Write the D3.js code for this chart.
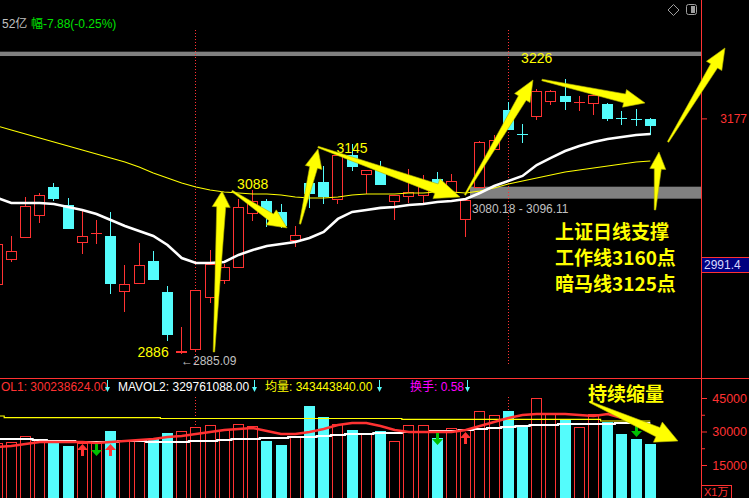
<!DOCTYPE html>
<html><head><meta charset="utf-8">
<script src="https://cdn.jsdelivr.net/npm/d3@7/dist/d3.min.js"></script>
<style>html,body{margin:0;padding:0;background:#000;overflow:hidden;}svg{display:block}</style>
</head><body><svg id="chart" width="749" height="498"></svg>
<script>
// ---------- data (index -1 .. 45) ----------
const idx = d3.range(-1, 46);
const openP  = [2971.0,3002.1,3029.5,3056.8,3091.7,3069.3,3023.3,3034.0,3030.7,2962.3,2972.2,2999.6,2961.1,2886.2,2890.1,2954.8,2976.0,2992.2,3059.3,3074.3,3060.6,3025.7,3096.6,3097.9,3076.7,3131.5,3107.8,3112.8,3074.3,3080.5,3081.7,3101.6,3085.4,3051.9,3091.7,3138.9,3187.5,3158.0,3180.0,3198.7,3204.9,3197.0,3196.2,3194.9,3177.8,3176.6,3176.3];
const highP  = [3020.8,3030.7,3079.2,3084.2,3096.6,3078.0,3061.8,3050.6,3060.6,2994.6,3022.0,3012.1,2968.5,2917.5,2963.5,3013.3,2995.9,3076.7,3088.0,3076.7,3070.5,3043.2,3098.0,3117.8,3131.5,3145.0,3112.8,3124.0,3081.7,3114.1,3106.6,3110.3,3107.8,3075.5,3148.9,3156.4,3197.4,3170.0,3213.0,3212.0,3226.0,3204.9,3208.6,3196.2,3186.2,3188.7,3177.5];
const lowP   = [2971.0,2999.6,3029.5,3048.1,3075.5,3040.7,3009.6,3022.0,2959.8,2937.4,2972.2,2977.2,2901.3,2885.09,2888.9,2948.6,2972.2,2992.2,3050.6,3043.2,3042.0,3018.3,3066.8,3071.8,3071.8,3112.8,3084.2,3095.4,3051.9,3073.0,3071.8,3081.7,3085.4,3030.7,3091.7,3138.9,3163.8,3147.7,3176.3,3194.9,3188.7,3187.5,3182.5,3175.0,3170.0,3168.8,3157.6];
const closeP = [3020.8,3012.1,3068.0,3081.7,3078.0,3040.7,3030.7,3034.6,2972.2,2971.0,2994.6,2977.2,2908.8,2887.0,2963.5,2995.9,2992.2,3066.8,3074.3,3059.3,3044.4,3032.0,3084.2,3080.5,3131.5,3117.8,3112.8,3095.4,3081.7,3085.4,3094.2,3090.4,3099.1,3075.5,3147.7,3150.1,3163.8,3157.0,3211.1,3211.1,3198.7,3197.8,3206.1,3177.5,3177.2,3176.0,3168.8];
const maWork = [3078.0,3071.8,3071.8,3071.8,3070.5,3066.8,3063.1,3058.1,3050.6,3043.2,3036.9,3030.7,3019.5,3003.3,2997.1,2997.1,2998.4,3007.1,3013.3,3018.3,3020.8,3023.3,3028.2,3035.7,3051.9,3060.6,3063.1,3065.6,3066.8,3069.3,3070.5,3073.0,3074.3,3076.7,3084.2,3092.9,3099.1,3105.4,3119.0,3127.8,3136.4,3142.7,3147.7,3151.4,3153.9,3156.4,3157.6];
const maDark = [3167.6,3162.6,3157.6,3152.6,3147.7,3142.7,3137.7,3132.7,3127.8,3122.8,3116.6,3109.1,3102.9,3096.6,3091.7,3087.9,3085.4,3084.2,3082.9,3082.9,3081.7,3079.2,3078.0,3078.0,3079.2,3081.7,3082.9,3082.9,3082.9,3084.2,3084.2,3085.4,3085.4,3084.2,3086.7,3090.4,3095.4,3099.1,3102.9,3106.6,3110.3,3112.8,3115.3,3117.8,3120.3,3122.8,3124.0];
const volume = [24851,25299,27985,26642,24851,23507,24851,24851,30224,25746,26194,26642,29328,30224,32015,32910,30672,33358,32463,25746,23955,27537,41418,36493,33358,30672,29328,30224,25746,32910,32910,27090,31567,30672,39179,37388,39179,32015,45000,38284,35597,32015,37836,34254,28881,26642,24403];
const mavol1 = [23060,23507,24403,25299,25299,25299,25299,24851,25299,25746,26194,26642,27537,27985,28881,29776,30672,31119,31567,30224,28881,28881,29776,31119,32910,33806,33806,32463,30672,29776,29776,29776,29776,30672,32463,34254,36045,37388,37836,37836,37836,37388,36940,37836,36045,34254,31119];
const mavol2 = [26642,26642,26642,26194,25746,25746,25299,25299,25299,25746,25746,25299,25299,25299,25746,25746,26194,26642,26642,27090,27090,27537,27537,27985,28433,28881,28881,29328,29328,29776,29776,30224,30224,30672,31119,31567,32015,32463,32910,32910,33358,33358,33358,33358,33806,33806,33806];
const avgVol = [36940,36179,36179,36179,36179,36179,36179,36179,36179,36179,36179,36179,35821,35821,35821,35821,35821,35821,35821,35821,35821,35821,35821,35821,35821,35821,35821,35821,35821,35463,35463,35463,35463,35463,35463,35463,35463,35463,35463,35463,35463,35463,35463,34701,34701,34701,34701];
const priceTicks = [3177];
const volTicks = [15000, 30000, 45000];
const volMinorTicks = [22500, 37500];
const monthMarks = [13, 35];
const bandLo = [3254.6, 3077.1];
const bandHi = [3260.0, 3092.0];
const bandFrom = [-2, 32.3];
const volSignals = [{i:5,up:true},{i:6,up:false},{i:7,up:true},{i:30,up:false},{i:32,up:true},{i:44,up:false}];
// annotation arrows in (index, price) / (index, volume)
const arrowsMain = [
  {f:[14.27,2886.4], t:[14.84,3086.7], nw:9, hw:18, hl:16},
  {f:[15.54,3086.7], t:[19.42,3040.7], nw:8, hw:18, hl:19},
  {f:[20.33,3045.6], t:[21.60,3139.0], nw:8, hw:17, hl:19},
  {f:[21.60,3141.4], t:[31.60,3079.2], nw:10, hw:21, hl:25},
  {f:[31.95,3081.7], t:[36.74,3224.8], nw:9, hw:18, hl:21},
  {f:[37.37,3224.8], t:[44.63,3196.2], nw:9, hw:18, hl:21},
  {f:[45.33,3063.1], t:[45.61,3135.2], nw:7, hw:16, hl:17},
  {f:[46.25,3147.7], t:[50.26,3264.6], nw:8, hw:18, hl:21}
];
const arrowsVol = [{f:[40.75,43209], t:[46.95,25746], nw:10, hw:22, hl:22}];

// ---------- setup ----------
const RED='#ff3232', CYAN='#54fcfc', YEL='#ffff00', GRAY='#808080', TXTGRAY='#c0c0c0';
const FONT='"Liberation Sans", Arial, "Noto Sans CJK SC", sans-serif';
const CJK='"Noto Sans CJK SC", sans-serif';
const AX=701, SEP=378;
const svg=d3.select('#chart');
svg.append('rect').attr('width',749).attr('height',498).attr('fill','#000');
const x = d3.scaleLinear().domain([0,45]).range([11.3,650.3]);
const y = d3.scaleLinear().domain([2885.09,3226]).range([353,79]);
const yv = d3.scaleLinear().domain([0,45000]).range([498.5,398]);
const px = i => Math.floor(x(i))+0.5;

const defs=svg.append('defs');
defs.append('clipPath').attr('id','cm').append('rect').attr('x',0).attr('y',0).attr('width',AX).attr('height',SEP);
defs.append('clipPath').attr('id','cv').append('rect').attr('x',0).attr('y',SEP+1).attr('width',AX).attr('height',498-SEP);
const gm=svg.append('g').attr('clip-path','url(#cm)');
const gv=svg.append('g').attr('clip-path','url(#cv)');

// bands
bandLo.forEach((lo,k)=>{
  gm.append('rect').attr('x',Math.max(0,x(bandFrom[k]))).attr('y',y(bandHi[k]))
    .attr('width',AX-Math.max(0,x(bandFrom[k]))).attr('height',y(lo)-y(bandHi[k])).attr('fill',GRAY);
});
// month separators
monthMarks.forEach(i=>{
  gm.append('line').attr('x1',px(i)).attr('x2',px(i)).attr('y1',30).attr('y2',366)
    .attr('stroke',RED).attr('stroke-dasharray','1,2');
  gv.append('line').attr('x1',px(i)).attr('x2',px(i)).attr('y1',397).attr('y2',498)
    .attr('stroke',RED).attr('stroke-dasharray','1,2');
});

// candles
idx.forEach((i,k)=>{
  const o=openP[k],h=highP[k],l=lowP[k],c=closeP[k];
  const up=c>=o, col=up?RED:CYAN, cx=px(i);
  const yt=Math.round(y(Math.max(o,c))), yb=Math.round(y(Math.min(o,c)));
  gm.append('line').attr('x1',cx).attr('x2',cx).attr('y1',Math.round(y(h))).attr('y2',Math.round(y(l))+1).attr('stroke',col);
  if(yb-yt<1){
    gm.append('line').attr('x1',cx-5.5).attr('x2',cx+5.5).attr('y1',yt+0.5).attr('y2',yt+0.5).attr('stroke',col);
  } else if(up){
    gm.append('rect').attr('x',cx-5).attr('y',yt+0.5).attr('width',10).attr('height',yb-yt).attr('fill','#000').attr('stroke',col);
  } else {
    gm.append('rect').attr('x',cx-5.5).attr('y',yt).attr('width',11).attr('height',yb-yt+1).attr('fill',col);
  }
});

// moving averages
const lineP = d3.line().x((d,k)=>x(idx[k])).y(d=>y(d));
gm.append('path').attr('d',lineP(maDark)).attr('fill','none').attr('stroke',YEL).attr('stroke-width',1.1);
gm.append('path').attr('d',lineP(maWork)).attr('fill','none').attr('stroke','#fff').attr('stroke-width',2.6);

// labels main
gm.append('text').attr('x',x(17)).attr('y',189).attr('text-anchor','middle').text('3088');
gm.append('text').attr('x',x(24)).attr('y',153).attr('text-anchor','middle').text('3145');
gm.append('text').attr('x',x(37)).attr('y',63).attr('text-anchor','middle').text('3226');
gm.append('text').attr('x',x(12)-13).attr('y',357).attr('text-anchor','end').text('2886');
gm.selectAll('text').attr('fill',YEL).attr('font-family',FONT).attr('font-size',14);
gm.append('text').attr('x',181).attr('y',365).attr('fill',TXTGRAY).attr('font-family',FONT).attr('font-size',12).text('←2885.09');
gm.append('text').attr('x',472).attr('y',213).attr('fill',TXTGRAY).attr('font-family',FONT).attr('font-size',12).text('3080.18 - 3096.11');

// volume bars
idx.forEach((i,k)=>{
  const up=closeP[k]>=openP[k], cx=px(i), top=Math.round(yv(volume[k]));
  if(up) gv.append('rect').attr('x',cx-5).attr('y',top+0.5).attr('width',10).attr('height',505-top).attr('fill','#000').attr('stroke',RED);
  else gv.append('rect').attr('x',cx-5.5).attr('y',top).attr('width',11).attr('height',505-top).attr('fill',CYAN);
});
const lineV = d3.line().x((d,k)=>x(idx[k])).y(d=>yv(d));
gv.append('path').attr('d',lineV.curve(d3.curveStep)(avgVol)).attr('fill','none').attr('stroke',YEL).attr('stroke-width',1.2);
gv.append('path').attr('d',lineV.curve(d3.curveStep)(mavol2)).attr('fill','none').attr('stroke','#fff').attr('stroke-width',2.2);
gv.append('path').attr('d',lineV.curve(d3.curveLinear)(mavol1)).attr('fill','none').attr('stroke',RED).attr('stroke-width',2.4);
// signal arrows
volSignals.forEach(s=>{
  const k=idx.indexOf(s.i), cx=px(s.i), t=Math.round(yv(mavol2[k]))+2;
  let pts;
  if(s.up) pts=[[cx,t],[cx+5.5,t+6],[cx+1.5,t+6],[cx+1.5,t+12],[cx-1.5,t+12],[cx-1.5,t+6],[cx-5.5,t+6]];
  else pts=[[cx-1.5,t],[cx+1.5,t],[cx+1.5,t+6],[cx+5.5,t+6],[cx,t+12],[cx-5.5,t+6],[cx-1.5,t+6]];
  gv.append('path').attr('d',d3.line()(pts)+'Z').attr('fill',s.up?RED:'#00c000');
});

// ---------- frame & axes ----------
svg.append('line').attr('x1',0).attr('x2',749).attr('y1',SEP+0.5).attr('y2',SEP+0.5).attr('stroke',RED);
svg.append('line').attr('x1',AX+0.5).attr('x2',AX+0.5).attr('y1',0).attr('y2',498).attr('stroke',RED);
const styleAxis = (g,size)=>{
  g.select('.domain').remove();
  g.selectAll('.tick line').attr('stroke',RED);
  g.selectAll('.tick text').attr('fill',RED).attr('x',46).attr('text-anchor','end')
    .attr('font-family',FONT).attr('font-size',size);
};
const gp=svg.append('g').attr('transform',`translate(${AX},0)`)
  .call(d3.axisRight(y).tickValues(priceTicks).tickSize(6).tickFormat(d3.format('d')));
styleAxis(gp,12);
const gvol=svg.append('g').attr('transform',`translate(${AX},0)`)
  .call(d3.axisRight(yv).tickValues(volTicks).tickSize(6).tickFormat(d3.format('d')));
styleAxis(gvol,12.5);
const gvm=svg.append('g').attr('transform',`translate(${AX},0)`)
  .call(d3.axisRight(yv).tickValues(volMinorTicks).tickSize(4).tickFormat(''));
styleAxis(gvm,12);

// current value box
const yc=Math.round(y(2991.4));
svg.append('rect').attr('x',AX+0.5).attr('y',yc-10.5).attr('width',48).attr('height',15).attr('fill','#000080').attr('stroke',RED);
svg.append('text').attr('x',AX+3).attr('y',yc+1).attr('fill','#d8d8ff').attr('font-family',FONT).attr('font-size',12).text('2991.4');
// unit box
svg.append('rect').attr('x',AX+0.5).attr('y',485.5).attr('width',30).attr('height',13).attr('fill','none').attr('stroke',RED);
svg.append('text').attr('x',AX+3).attr('y',495.5).attr('fill',RED).attr('font-family',FONT).attr('font-size',11).text('X1万');

// ---------- header texts ----------
svg.append('text').attr('x',2).attr('y',28).attr('fill',TXTGRAY).attr('font-family',FONT).attr('font-size',12).text('52亿');
svg.append('text').attr('x',31).attr('y',28).attr('fill','#00e000').attr('font-family',FONT).attr('font-size',12).text('幅-7.88(-0.25%)');
// icons top right
svg.append('path').attr('d','M673.5,4.5 L679,10 L673.5,15.5 L668,10 Z').attr('fill','none').attr('stroke','#a0a0a0');
svg.append('rect').attr('x',686.5).attr('y',4.5).attr('width',10).attr('height',10).attr('rx',2).attr('fill','none').attr('stroke','#a0a0a0');
svg.append('rect').attr('x',691).attr('y',6).attr('width',4).attr('height',7).attr('fill','#a0a0a0');

// volume header
const vh=[{t:'OL1: 300238624.00',x:1,a:'start',c:RED},{t:'MAVOL2: 329761088.00',x:118,a:'start',c:'#ffffff'},
          {t:'均量: 343443840.00',x:265,a:'start',c:YEL},{t:'换手: 0.58',x:410,a:'start',c:'#ff00ff'}];
vh.forEach(d=>svg.append('text').attr('x',d.x).attr('y',391).attr('text-anchor',d.a).attr('fill',d.c)
  .attr('font-family',FONT).attr('font-size',12).text(d.t));
[107,254,379,467].forEach(ax=>{
  svg.append('line').attr('x1',ax+0.5).attr('x2',ax+0.5).attr('y1',380).attr('y2',389).attr('stroke',CYAN);
  svg.append('path').attr('d',`M${ax-2},387L${ax+3},387L${ax+0.5},392Z`).attr('fill',CYAN);
});

// ---------- annotations ----------
function arrowPath(x1,y1,x2,y2,tw,nw,hw,hl){
  const dx=x2-x1, dy=y2-y1, L=Math.hypot(dx,dy), ux=dx/L, uy=dy/L, qx=-uy, qy=ux;
  const bx=x2-ux*hl, by=y2-uy*hl;
  const pts=[[x1+qx*tw/2,y1+qy*tw/2],[bx+qx*nw/2,by+qy*nw/2],[bx+qx*hw/2,by+qy*hw/2],[x2,y2],
             [bx-qx*hw/2,by-qy*hw/2],[bx-qx*nw/2,by-qy*nw/2],[x1-qx*tw/2,y1-qy*tw/2]];
  return d3.line()(pts)+'Z';
}
const ga=svg.append('g');
arrowsMain.forEach(a=>ga.append('path').attr('d',arrowPath(x(a.f[0]),y(a.f[1]),x(a.t[0]),y(a.t[1]),1.5,a.nw,a.hw,a.hl))
  .attr('fill',YEL).attr('stroke','#b0b000').attr('stroke-width',0.6));
arrowsVol.forEach(a=>ga.append('path').attr('d',arrowPath(x(a.f[0]),yv(a.f[1]),x(a.t[0]),yv(a.t[1]),1.5,a.nw,a.hw,a.hl))
  .attr('fill',YEL).attr('stroke','#b0b000').attr('stroke-width',0.6));

const note=['上证日线支撑','工作线3160点','暗马线3125点'];
note.forEach((t,k)=>svg.append('text').attr('x',555).attr('y',239+26*k).attr('fill',YEL)
  .attr('font-family',CJK).attr('font-size',19).attr('font-weight','bold').text(t));
svg.append('text').attr('x',588).attr('y',401).attr('fill',YEL).attr('font-family',CJK)
  .attr('font-size',19).attr('font-weight','bold').text('持续缩量');
</script></body></html>
